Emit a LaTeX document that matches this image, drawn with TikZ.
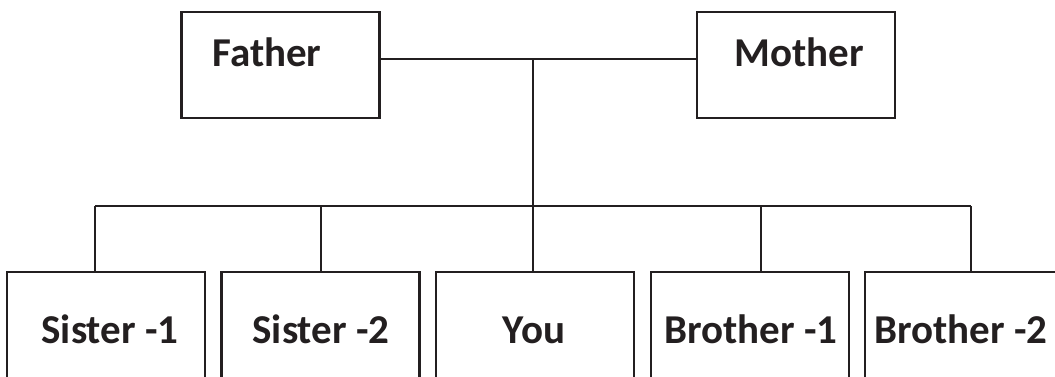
\documentclass[tikz,border=0pt]{standalone}
\usepackage{fontspec}
\setmainfont{Carlito}
\definecolor{ink}{HTML}{231F20}
\begin{document}
\begin{tikzpicture}[x=1pt,y=-1pt,
  box/.style={draw=ink,line width=2.6pt,minimum width=198pt,inner sep=0pt,fill=white},
  topbox/.style={box,minimum height=106pt},
  botbox/.style={box,minimum height=160pt},
  lbl/.style={text=ink,anchor=base,inner sep=0pt,font=\fontsize{41}{49}\selectfont\bfseries},
  wire/.style={draw=ink,line width=2.6pt}]
\useasboundingbox (0,0) rectangle (1055,377);
\clip (0,0) rectangle (1055,377);
% parents
\node[topbox] (father) at (280.5,65) {};
\node[topbox] (mother) at (796,65) {};
\node[lbl] (fathert) at (267,67) {Father};
\node[lbl] (mothert) at (799,67) {Mother};
% children
\node[botbox] (sis1) at (106,352) {};
\node[botbox] (sis2) at (320.5,352) {};
\node[botbox] (you) at (535,352) {};
\node[botbox] (bro1) at (750,352) {};
\node[botbox] (bro2) at (964,352) {};
\node[lbl] (sis1t) at (110,343) {Sister -1};
\node[lbl] (sis2t) at (321,343) {Sister -2};
\node[lbl] (yout) at (534,343) {You};
\node[lbl] (bro1t) at (751,343) {Brother -1};
\node[lbl] (bro2t) at (961,343) {Brother -2};
% connectors
\coordinate (top) at (533,59);
\coordinate (bus) at (533,206);
\coordinate (d1) at (95,206);
\coordinate (d2) at (321,206);
\coordinate (d4) at (761,206);
\coordinate (d5) at (971,206);
\draw[wire] (father.east |- top) -- (mother.west |- top);
\draw[wire] (top) -- (bus);
\draw[wire] (d1) -- (d5);
\draw[wire] (d1) -- (d1 |- sis1.north);
\draw[wire] (d2) -- (d2 |- sis2.north);
\draw[wire] (bus) -- (bus |- you.north);
\draw[wire] (d4) -- (d4 |- bro1.north);
\draw[wire] (d5) -- (d5 |- bro2.north);
\end{tikzpicture}
\end{document}
